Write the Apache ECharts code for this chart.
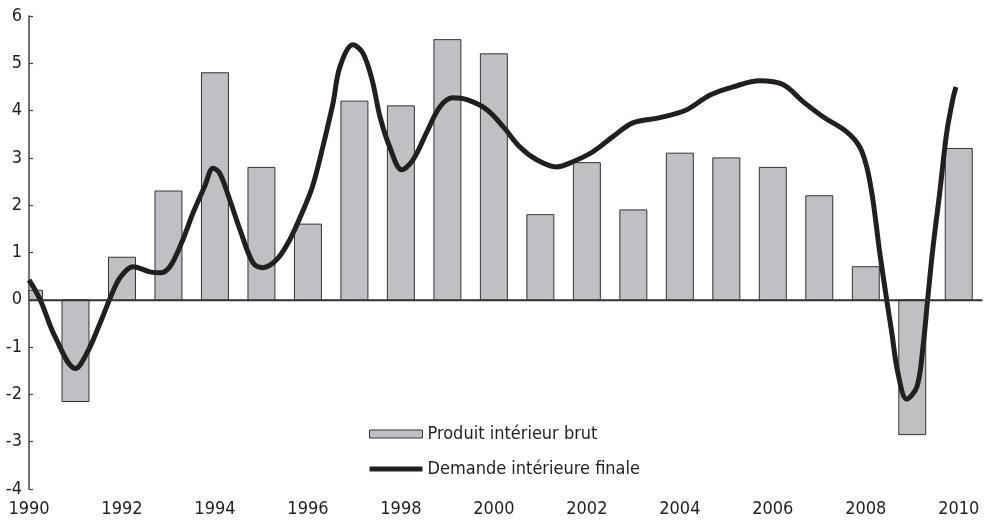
<!DOCTYPE html>
<html>
<head>
<meta charset="utf-8">
<script src="https://cdn.jsdelivr.net/npm/echarts@6/dist/echarts.min.js"></script>
<style>
html,body{margin:0;padding:0;background:#fff;}
#chartmain{width:990px;height:520px;}
</style>
</head>
<body>
<div id="chartmain"></div>
<script>
// annual GDP growth (bars)
var years=[1990,1991,1992,1993,1994,1995,1996,1997,1998,1999,2000,2001,2002,2003,2004,2005,2006,2007,2008,2009,2010];
var pibValues=[0.2,-2.15,0.9,2.3,4.8,2.8,1.6,4.2,4.1,5.5,5.2,1.8,2.9,1.9,3.1,3.0,2.8,2.2,0.7,-2.85,3.2];

// final domestic demand (line)
var demandTimes=[1990.0,1990.24,1990.56,1991.0,1991.25,1991.53,1991.89,1992.1,1992.24,1992.6,1992.82,1993.03,1993.28,1993.53,1993.78,1993.96,
	1994.1,1994.32,1994.54,1994.82,1995.03,1995.33,1995.61,1995.9,1996.1,1996.32,1996.54,1996.69,1996.97,1997.18,1997.38,1997.55,1997.76,
	1998.02,1998.26,1998.55,1998.84,1999.12,1999.42,1999.85,2000.2,2000.56,2000.92,2001.35,2001.7,2002.13,2002.56,2002.99,2003.57,2004.15,
	2004.65,2005.14,2005.72,2006.22,2006.65,2007.08,2007.59,2007.87,2008.02,2008.13,2008.21,2008.3,2008.45,2008.56,2008.69,2008.88,2009.1,
	2009.23,2009.33,2009.44,2009.59,2009.74,2009.87,2009.94];
var demandValues=[0.42,0.0,-0.78,-1.45,-1.12,-0.49,0.36,0.63,0.7,0.59,0.57,0.7,1.2,1.84,2.4,2.78,
	2.68,2.11,1.48,0.78,0.68,0.85,1.27,1.9,2.4,3.23,4.16,4.93,5.39,5.22,4.65,3.87,3.23,
	2.75,2.96,3.53,4.08,4.27,4.23,4.02,3.66,3.23,2.96,2.81,2.92,3.13,3.45,3.74,3.85,4.02,
	4.33,4.5,4.63,4.55,4.19,3.87,3.55,3.23,2.81,2.26,1.7,1.0,0.0,-0.7,-1.54,-2.1,-1.84,
	-1.0,0.0,1.06,2.26,3.53,4.23,4.5];

var yTicks={min:-4,max:6,step:1};
var xTicks={min:1990,max:2010.5,step:2};

var fontName='"Liberation Sans Narrow","DejaVu Sans Condensed","Arial Narrow",sans-serif';
var ink='#231f20';
var barFill='#bfc0c4';

var barData=[];
for(var i=0;i<years.length;i++) barData.push([years[i],pibValues[i]]);
var lineData=[];
for(var j=0;j<demandTimes.length;j++) lineData.push([demandTimes[j],demandValues[j]]);

// bars drawn as custom rects so the first one is clipped by the y axis
function renderBar(params,api) {
	var x=api.value(0), v=api.value(1);
	var p0=api.coord([x,0]);
	var p1=api.coord([x,v]);
	var w=api.size([1,0])[0]*0.58;
	var rect={x:p0[0]-w/2,y:Math.min(p0[1],p1[1]),width:w,height:Math.abs(p1[1]-p0[1])};
	var cs=params.coordSys;
	var clipped=echarts.graphic.clipRectByRect(rect,{x:cs.x,y:cs.y,width:cs.width,height:cs.height});
	if(!clipped) return;
	return {type:'rect',shape:clipped,style:api.style()};
}

var myChart=echarts.init(document.getElementById("chartmain"));
var option={
	animation:false,
	textStyle:{fontFamily:fontName,color:ink},
	grid:{left:29,right:8,top:16,bottom:31,containLabel:false},
	legend:{
		orient:'vertical',left:369,top:425,padding:0,
		itemWidth:53,itemHeight:8,itemGap:17,
		symbolKeepAspect:true,
		textStyle:{fontFamily:fontName,fontSize:18,color:ink},
		data:[
			{name:'Produit intérieur brut',icon:'rect',itemStyle:{color:barFill,borderColor:'#333',borderWidth:1}},
			{name:'Demande intérieure finale',icon:'path://M0,0L53,0L53,5L0,5Z',itemStyle:{color:ink,borderWidth:0}}
		]
	},
	xAxis:{
		type:'value',min:xTicks.min,max:xTicks.max,interval:xTicks.step,
		splitLine:{show:false},
		axisTick:{show:false},
		axisLine:{lineStyle:{color:'#444',width:1.5}},
		axisLabel:{
			fontFamily:fontName,fontSize:18,color:ink,margin:11,
			showMaxLabel:false,
			formatter:function(v){return (v%2===0)?String(v):'';}
		}
	},
	yAxis:{
		type:'value',min:yTicks.min,max:yTicks.max,interval:yTicks.step,
		splitLine:{show:false},
		axisLine:{show:true,lineStyle:{color:'#444',width:1.5}},
		axisTick:{show:true,inside:true,length:4,lineStyle:{color:'#444',width:1.2}},
		axisLabel:{fontFamily:fontName,fontSize:18,color:ink,margin:7}
	},
	series:[{
		name:'Produit intérieur brut',
		type:'custom',
		renderItem:renderBar,
		encode:{x:0,y:1},
		itemStyle:{color:barFill,borderColor:'#333',borderWidth:1},
		markLine:{
			silent:true,symbol:['none','none'],
			label:{show:false},
			lineStyle:{color:'#333',width:1.3,type:'solid'},
			data:[{yAxis:0}]
		},
		data:barData
	},{
		name:'Demande intérieure finale',
		type:'line',
		smooth:0.35,
		symbol:'none',
		lineStyle:{color:ink,width:5},
		itemStyle:{color:ink},
		data:lineData
	}]
};
myChart.setOption(option);
</script>
</body>
</html>
